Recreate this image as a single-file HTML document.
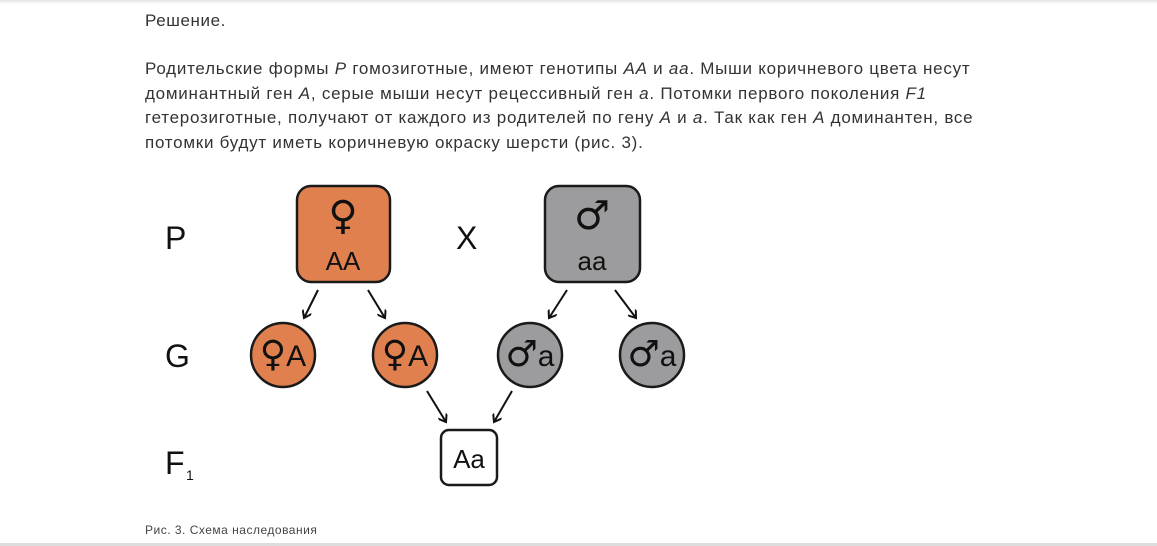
<!DOCTYPE html>
<html><head><meta charset="utf-8"><style>
body{margin:0;width:1157px;height:546px;background:#fff;font-family:"Liberation Sans","DejaVu Sans",sans-serif;color:#333;position:relative;overflow:hidden}
.top{position:absolute;left:0;top:0;width:1157px;height:4px;background:linear-gradient(#e4e4e4,#fff)}
.t{position:absolute;left:145px;font-size:17px;letter-spacing:0.6px;white-space:nowrap}
.p{position:absolute;left:145px;top:57px;font-size:17px;letter-spacing:0.75px;line-height:24.5px;white-space:nowrap}
i{font-style:italic}
.cap{position:absolute;left:145px;top:523px;font-size:12px;letter-spacing:0.5px;color:#444}
.bot{position:absolute;left:0;top:543px;width:1157px;height:3px;background:#ddd}
</style></head><body>
<div class="top"></div>
<div class="t" style="top:11px">Решение.</div>
<div class="p">Родительские формы <i>P</i> гомозиготные, имеют генотипы <i>AA</i> и <i>aa</i>. Мыши коричневого цвета несут<br>доминантный ген <i>A</i>, серые мыши несут рецессивный ген <i>a</i>. Потомки первого поколения <i>F1</i><br>гетерозиготные, получают от каждого из родителей по гену <i>A</i> и <i>a</i>. Так как ген <i>A</i> доминантен, все<br>потомки будут иметь коричневую окраску шерсти (рис. 3).</div>
<svg style="position:absolute;left:0;top:0" width="1157" height="546" font-family="Liberation Sans, DejaVu Sans, sans-serif">
<defs><marker id="a" markerWidth="10" markerHeight="10" refX="8" refY="5" orient="auto" markerUnits="userSpaceOnUse"><path d="M1,0 L8,5 L1,10" fill="none" stroke="#111" stroke-width="2"/></marker></defs>
<g fill="#111" font-size="32">
<text x="165" y="249">P</text><text x="165" y="367">G</text><text x="165" y="474">F</text><text x="186" y="480" font-size="14">1</text>
<text x="456" y="249">X</text></g>
<rect x="297" y="186" width="93" height="96" rx="14" fill="#e0804f" stroke="#1a1a1a" stroke-width="2.5"/>
<rect x="545" y="186" width="95" height="96" rx="14" fill="#9c9c9e" stroke="#1a1a1a" stroke-width="2.5"/>
<text x="343" y="229" font-size="40" text-anchor="middle" fill="#111" font-family="DejaVu Sans">♀</text>
<text x="343" y="270" font-size="26" text-anchor="middle" fill="#111">AA</text>
<text x="592" y="229" font-size="40" text-anchor="middle" fill="#111" font-family="DejaVu Sans">♂</text>
<text x="592" y="270" font-size="26" text-anchor="middle" fill="#111">aa</text>
<g stroke="#1a1a1a" stroke-width="2.5">
<circle cx="283" cy="355" r="32" fill="#e0804f"/><circle cx="405" cy="355" r="32" fill="#e0804f"/>
<circle cx="530" cy="355" r="32" fill="#9c9c9e"/><circle cx="652" cy="355" r="32" fill="#9c9c9e"/>
</g>
<g font-size="30" fill="#111" text-anchor="middle">
<text x="283" y="366"><tspan font-family="DejaVu Sans" font-size="36">♀</tspan>A</text>
<text x="405" y="366"><tspan font-family="DejaVu Sans" font-size="36">♀</tspan>A</text>
<text x="530" y="366"><tspan font-family="DejaVu Sans" font-size="36">♂</tspan>a</text>
<text x="652" y="366"><tspan font-family="DejaVu Sans" font-size="36">♂</tspan>a</text>
</g>
<rect x="441" y="430" width="56" height="55" rx="8" fill="#fff" stroke="#1a1a1a" stroke-width="2.5"/>
<text x="469" y="468" font-size="26" text-anchor="middle" fill="#111">Aa</text>
<g stroke="#111" stroke-width="2" marker-end="url(#a)">
<line x1="318" y1="290" x2="304" y2="318"/><line x1="368" y1="290" x2="385" y2="318"/>
<line x1="567" y1="290" x2="549" y2="318"/><line x1="615" y1="290" x2="636" y2="318"/>
<line x1="427" y1="391" x2="446" y2="422"/><line x1="512" y1="391" x2="494" y2="422"/>
</g>
</svg>
<div class="cap">Рис. 3. Схема наследования</div>
<div class="bot"></div>
</body></html>
